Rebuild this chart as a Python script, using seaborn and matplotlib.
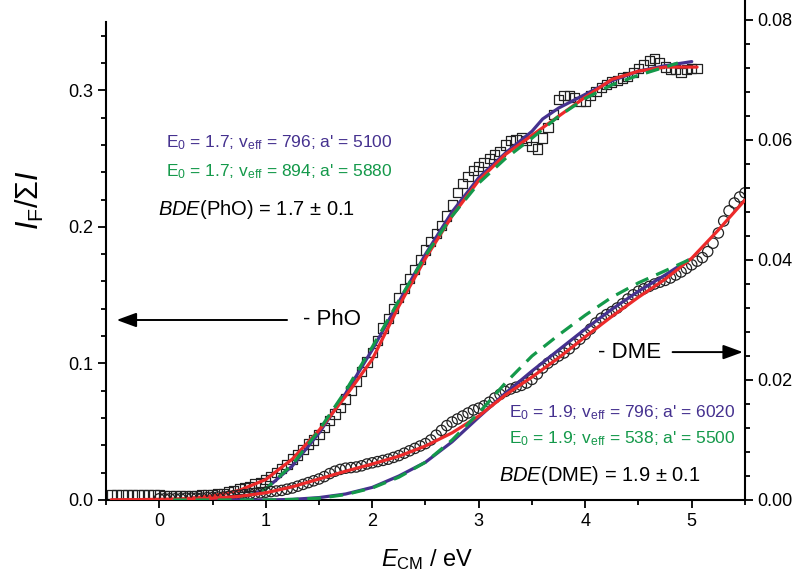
import numpy as np
import pandas as pd
import seaborn as sns
import matplotlib.pyplot as plt
from matplotlib.ticker import MultipleLocator, FormatStrFormatter

''' data : fragment yield vs collision energy '''
# PhO fragment (left axis), squares
e_pho = np.linspace(-0.45, 5.05, 111)
pho = [0.004, 0.004, 0.004, 0.004, 0.004, 0.004, 0.004, 0.004, 0.004, 0.004,
       0.003, 0.003, 0.003, 0.003, 0.003, 0.003, 0.003, 0.004, 0.004, 0.004,
       0.005, 0.005, 0.006, 0.007, 0.008, 0.009, 0.010, 0.012, 0.013, 0.015,
       0.017, 0.020, 0.023, 0.026, 0.030, 0.033, 0.037, 0.041, 0.044, 0.048,
       0.053, 0.058, 0.063, 0.068, 0.074, 0.080, 0.087, 0.094, 0.101, 0.108,
       0.117, 0.126, 0.133, 0.140, 0.148, 0.155, 0.162, 0.169, 0.176, 0.183,
       0.189, 0.195, 0.201, 0.208, 0.216, 0.225, 0.232, 0.237, 0.241, 0.244,
       0.247, 0.250, 0.253, 0.255, 0.260, 0.263, 0.264, 0.265, 0.263, 0.259,
       0.257, 0.265, 0.273, 0.282, 0.293, 0.296, 0.296, 0.295, 0.292, 0.292,
       0.296, 0.299, 0.302, 0.304, 0.306, 0.307, 0.309, 0.310, 0.313, 0.316,
       0.319, 0.322, 0.323, 0.320, 0.317, 0.315, 0.315, 0.313, 0.315, 0.316,
       0.316]

# DME fragment (right axis), circles
e_dme = np.linspace(0.0, 5.5, 111)
dme = [0.0002, 0.0002, 0.0002, 0.0002, 0.0002, 0.0003, 0.0003, 0.0003, 0.0003, 0.0004,
       0.0004, 0.0005, 0.0005, 0.0006, 0.0007, 0.0008, 0.0009, 0.0010, 0.0011, 0.0012,
       0.0013, 0.0014, 0.0015, 0.0016, 0.0018, 0.0020, 0.0023, 0.0026, 0.0029, 0.0032,
       0.0035, 0.0039, 0.0044, 0.0048, 0.0051, 0.0053, 0.0054, 0.0055, 0.0057, 0.0060,
       0.0062, 0.0064, 0.0066, 0.0068, 0.0071, 0.0074, 0.0078, 0.0082, 0.0086, 0.0090,
       0.0094, 0.0100, 0.0108, 0.0116, 0.0124, 0.0130, 0.0135, 0.0140, 0.0145, 0.0150,
       0.0153, 0.0157, 0.0163, 0.0170, 0.0176, 0.0181, 0.0185, 0.0188, 0.0191, 0.0195,
       0.0201, 0.0210, 0.0220, 0.0228, 0.0234, 0.0240, 0.0245, 0.0252, 0.0260, 0.0268,
       0.0276, 0.0285, 0.0295, 0.0303, 0.0309, 0.0314, 0.0320, 0.0327, 0.0335, 0.0342,
       0.0348, 0.0352, 0.0356, 0.0360, 0.0363, 0.0366, 0.0370, 0.0375, 0.0380, 0.0386,
       0.0392, 0.0398, 0.0404, 0.0414, 0.0428, 0.0445, 0.0465, 0.0482, 0.0495, 0.0505,
       0.0512]

''' fit curves '''
pho_red_e = [-0.45, 0.0, 0.25, 0.5, 0.75, 1.0, 1.25, 1.5, 1.75, 2.0, 2.25, 2.5, 2.75,
             3.0, 3.25, 3.5, 3.75, 4.0, 4.25, 4.5, 4.75, 5.05]
pho_red = [0.0, 0.0005, 0.001, 0.003, 0.007, 0.015, 0.030, 0.051, 0.076, 0.103, 0.142,
           0.177, 0.208, 0.234, 0.253, 0.267, 0.281, 0.295, 0.308, 0.314, 0.317, 0.317]

pho_fit_e = [0.13, 0.5, 0.75, 1.0, 1.25, 1.5, 1.75, 2.0, 2.25, 2.5, 2.75, 3.0, 3.25,
             3.5, 3.6, 3.75, 4.0, 4.25, 4.5, 4.75, 5.0]
pho_purple = [0.0, 0.0, 0.001, 0.008, 0.025, 0.049, 0.078, 0.110, 0.145, 0.180, 0.211,
              0.236, 0.254, 0.270, 0.279, 0.287, 0.297, 0.307, 0.314, 0.318, 0.321]
pho_green_e = [0.13, 0.5, 0.75, 1.0, 1.25, 1.5, 1.75, 2.0, 2.25, 2.5, 2.75, 3.0, 3.25,
               3.5, 3.75, 4.0, 4.25, 4.5, 4.75, 4.87]
pho_green = [0.0, 0.0, 0.001, 0.008, 0.026, 0.051, 0.080, 0.112, 0.146, 0.179, 0.208,
             0.232, 0.250, 0.265, 0.281, 0.294, 0.304, 0.311, 0.317, 0.320]

dme_red_e = [-0.45, 0.0, 0.25, 0.5, 0.75, 1.0, 1.25, 1.5, 1.75, 2.0, 2.25, 2.5, 2.75,
             3.0, 3.25, 3.5, 3.75, 4.0, 4.25, 4.5, 4.75, 5.0, 5.25, 5.5]
dme_red = [0.0, 0.0, 0.0001, 0.0003, 0.0006, 0.0012, 0.0022, 0.0035, 0.0048, 0.0060,
           0.0073, 0.0090, 0.0112, 0.0140, 0.0175, 0.0205, 0.0237, 0.0272, 0.0306,
           0.0338, 0.0368, 0.0403, 0.0450, 0.0500]

dme_fit_e = [0.13, 1.0, 1.25, 1.5, 1.75, 2.0, 2.25, 2.5, 2.75, 3.0, 3.25, 3.5, 3.75,
             4.0, 4.25, 4.5, 4.75, 4.97]
dme_purple = [0.0, 0.0, 0.0001, 0.0004, 0.0010, 0.0021, 0.0040, 0.0063, 0.0097, 0.0138,
              0.0178, 0.0215, 0.0250, 0.0285, 0.0318, 0.0348, 0.0375, 0.0400]
dme_green = [0.0, 0.0, 0.0001, 0.0003, 0.0009, 0.0020, 0.0038, 0.0063, 0.0100, 0.0145,
             0.0195, 0.0240, 0.0275, 0.0308, 0.0338, 0.0362, 0.0382, 0.0400]

RED = '#ec2a2a'
PURPLE = '#45318f'
GREEN = '#14994a'

sns.set_style('ticks')
plt.rcParams['font.family'] = ['Liberation Sans', 'DejaVu Sans']
plt.rcParams['mathtext.fontset'] = 'custom'
plt.rcParams['mathtext.rm'] = 'Liberation Sans'
plt.rcParams['mathtext.it'] = 'Liberation Sans:italic'
plt.rcParams['mathtext.bf'] = 'Liberation Sans:bold'
plt.rcParams['text.color'] = 'black'
plt.rcParams['axes.edgecolor'] = 'black'
plt.rcParams['xtick.color'] = 'black'
plt.rcParams['ytick.color'] = 'black'

fig = plt.figure(figsize=(8, 5.8), dpi=100)
ax = fig.add_axes([106 / 800, 80 / 580, 639 / 800, 478 / 580])
ax2 = fig.add_axes([106 / 800, 80 / 580, 639 / 800, 500 / 580], sharex=ax)
ax2.patch.set_visible(False)

dash = (0, (4.3, 2.7))

''' PhO on left axis '''
sns.scatterplot(x=e_pho, y=pho, ax=ax, marker='s', s=44, facecolor='none',
                edgecolor='#222222', linewidth=0.9, zorder=2)
sns.lineplot(x=pho_fit_e, y=pho_purple, ax=ax, color=PURPLE, lw=2.3, zorder=3)
sns.lineplot(x=pho_red_e, y=pho_red, ax=ax, color=RED, lw=2.3, zorder=4)
sns.lineplot(x=pho_green_e, y=pho_green, ax=ax, color=GREEN, lw=2.3, ls=dash, zorder=5)

''' DME on right axis '''
sns.scatterplot(x=e_dme, y=dme, ax=ax2, marker='o', s=55, facecolor='none',
                edgecolor='#222222', linewidth=0.9, zorder=2)
sns.lineplot(x=dme_fit_e, y=dme_purple, ax=ax2, color=PURPLE, lw=2.3, zorder=3)
sns.lineplot(x=dme_red_e, y=dme_red, ax=ax2, color=RED, lw=2.3, zorder=4)
sns.lineplot(x=dme_fit_e, y=dme_green, ax=ax2, color=GREEN, lw=2.3, ls=dash, zorder=5)

ax.set_xlim(-0.5, 5.5)
ax.set_ylim(0, 0.35)
ax2.set_ylim(0, 0.08 * 500 / 480)

ax.xaxis.set_major_locator(MultipleLocator(1))
ax.xaxis.set_minor_locator(MultipleLocator(0.5))
ax.yaxis.set_major_locator(MultipleLocator(0.1))
ax.yaxis.set_minor_locator(MultipleLocator(0.02))
ax.yaxis.set_major_formatter(FormatStrFormatter('%.1f'))
ax2.yaxis.set_major_locator(MultipleLocator(0.02))
ax2.yaxis.set_minor_locator(MultipleLocator(0.004))
ax2.yaxis.set_major_formatter(FormatStrFormatter('%.2f'))

for s in ['top', 'right']:
    ax.spines[s].set_visible(False)
for s in ['top', 'left', 'bottom']:
    ax2.spines[s].set_visible(False)
for sp in [ax.spines['left'], ax.spines['bottom'], ax2.spines['right']]:
    sp.set_linewidth(1.5)
    sp.set_color('black')

ax.tick_params(which='major', direction='out', length=5.5, width=1.3, labelsize=13,
               colors='black')
ax.tick_params(which='minor', direction='out', length=3.5, width=1.3, colors='black')
ax2.tick_params(axis='x', which='both', bottom=False, labelbottom=False)
ax2.tick_params(axis='y', which='both', left=False, labelleft=False,
                right=True, labelright=True, direction='out', width=1.3, colors='black')
ax2.tick_params(axis='y', which='major', length=5.5, labelsize=13)
ax2.tick_params(axis='y', which='minor', length=3.5)
ax.set_xlabel('')
ax.set_ylabel('')
ax2.set_xlabel('')
ax2.set_ylabel('')

fig.text(30 / 800, 1 - 200 / 580, r'$I_{\rm F}/\Sigma I$', rotation=90,
         fontsize=22, ha='center', va='center')
fig.text(427 / 800, 1 - 560 / 580, r'$E_{\rm CM}$ / eV', fontsize=17,
         ha='center', va='center')

''' annotations '''
ax.text(0.06, 0.2613, r"E$_0$ = 1.7; v$_{\rm eff}$ = 796; a' = 5100", color=PURPLE,
        fontsize=12.5, va='center')
ax.text(0.06, 0.2401, r"E$_0$ = 1.7; v$_{\rm eff}$ = 894; a' = 5880", color=GREEN,
        fontsize=12.5, va='center')
ax.text(-0.01, 0.213, r"$\it{BDE}$(PhO) = 1.7 ± 0.1", color='k', fontsize=14.5,
        va='center')

ax.text(3.28, 0.0637, r"E$_0$ = 1.9; v$_{\rm eff}$ = 796; a' = 6020", color=PURPLE,
        fontsize=12.5, va='center')
ax.text(3.28, 0.0447, r"E$_0$ = 1.9; v$_{\rm eff}$ = 538; a' = 5500", color=GREEN,
        fontsize=12.5, va='center')
ax.text(3.19, 0.0183, r"$\it{BDE}$(DME) = 1.9 ± 0.1", color='k', fontsize=14.5,
        va='center')

arrow = dict(arrowstyle='-|>,head_length=0.6,head_width=0.22', color='k', lw=1.4,
             mutation_scale=20, shrinkA=0, shrinkB=0)
ax.annotate('', xy=(-0.4, 0.1318), xytext=(1.2, 0.1318), arrowprops=arrow)
ax.text(1.35, 0.1318, '- PhO', fontsize=16, va='center')
ax.annotate('', xy=(5.48, 0.1083), xytext=(4.82, 0.1083), arrowprops=arrow)
ax.text(4.12, 0.1083, '- DME', fontsize=16, va='center')

plt.savefig('out.png', dpi=100)
